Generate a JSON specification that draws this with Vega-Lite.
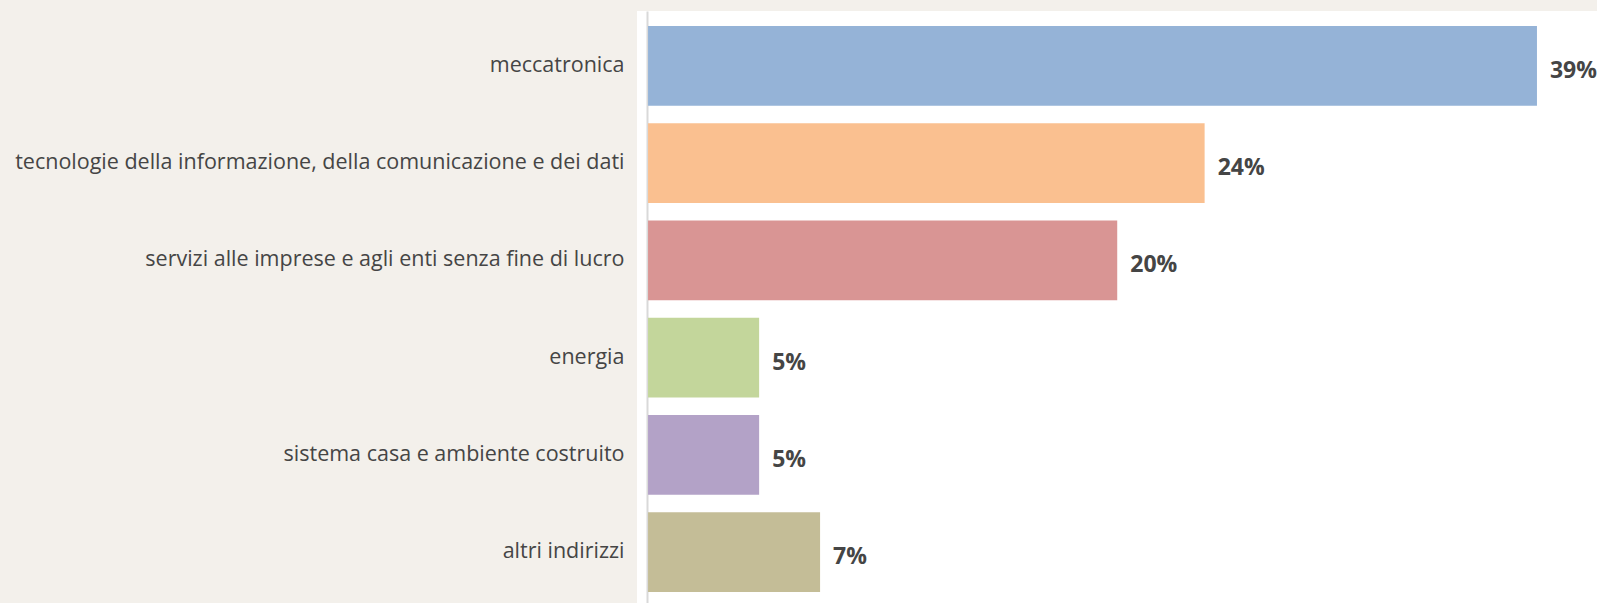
{
  "$schema": "https://vega.github.io/schema/vega-lite/v6.json",
  "width": 960,
  "height": 592,
  "autosize": {"type": "none"},
  "padding": {"left": 637, "top": 11, "right": 0, "bottom": 0},
  "background": "#f3f0eb",
  "view": {"fill": "#ffffff", "stroke": null},
  "data": {
    "values": [
      {"indirizzo": "meccatronica", "quota": 38.65, "etichetta": "39%"},
      {"indirizzo": "tecnologie della informazione, della comunicazione e dei dati", "quota": 24.2, "etichetta": "24%"},
      {"indirizzo": "servizi alle imprese e agli enti senza fine di lucro", "quota": 20.4, "etichetta": "20%"},
      {"indirizzo": "energia", "quota": 4.83, "etichetta": "5%"},
      {"indirizzo": "sistema casa e ambiente costruito", "quota": 4.83, "etichetta": "5%"},
      {"indirizzo": "altri indirizzi", "quota": 7.48, "etichetta": "7%"}
    ]
  },
  "encoding": {
    "y": {
      "field": "indirizzo",
      "type": "nominal",
      "sort": null,
      "scale": {"paddingInner": 0.18, "paddingOuter": 0.1337, "align": 0.577},
      "axis": {
        "title": null,
        "ticks": false,
        "offset": -10,
        "labelPadding": 23,
        "labelFont": "Open Sans",
        "labelFontSize": 21.5,
        "labelColor": "#454545",
        "labelLimit": 700,
        "domainColor": "#d9d9d9",
        "domainWidth": 2
      }
    },
    "x": {
      "field": "quota",
      "type": "quantitative",
      "scale": {"domain": [-0.48, 41.26], "nice": false, "zero": false},
      "axis": null
    }
  },
  "layer": [
    {
      "mark": {"type": "bar"},
      "encoding": {
        "color": {
          "field": "indirizzo",
          "type": "nominal",
          "sort": null,
          "scale": {
            "domain": ["meccatronica", "tecnologie della informazione, della comunicazione e dei dati", "servizi alle imprese e agli enti senza fine di lucro", "energia", "sistema casa e ambiente costruito", "altri indirizzi"],
            "range": ["#95b3d7", "#fac090", "#d99594", "#c3d69b", "#b3a2c7", "#c4bd97"]
          },
          "legend": null
        }
      }
    },
    {
      "mark": {"type": "text", "align": "left", "dx": 13, "dy": 5, "font": "Open Sans", "fontSize": 23, "fontWeight": "bold", "color": "#454545"},
      "encoding": {"text": {"field": "etichetta"}}
    }
  ]
}
